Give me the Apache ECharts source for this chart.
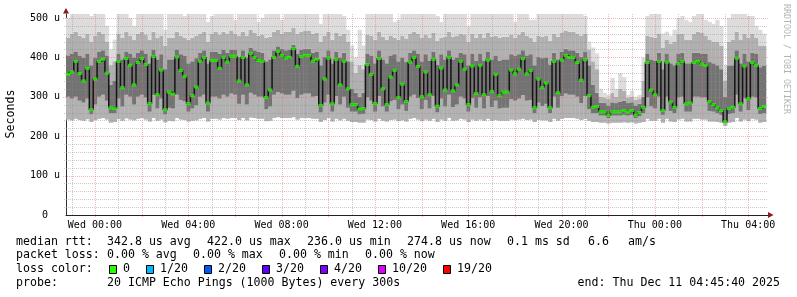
<!DOCTYPE html>
<html><head><meta charset="utf-8">
<script src="https://cdn.jsdelivr.net/npm/echarts@6/dist/echarts.min.js"></script>
<style>html,body{margin:0;padding:0;background:#fff}#c{width:797px;height:297px}</style>
</head><body><div id="c"></div>
<script>
// time axis in hours relative to Wed 00:00; first sample starts Tue 22:45:40
const startHour = -1.24;
const stepHours = 1 / 6; // 10-minute samples
const xLabelHours = [0, 4, 8, 12, 16, 20, 24, 28];
const xLabels = ['Wed 00:00', 'Wed 04:00', 'Wed 08:00', 'Wed 12:00', 'Wed 16:00', 'Wed 20:00', 'Thu 00:00', 'Thu 04:00'];
const yTickValues = [0, 100, 200, 300, 400, 500];

// median rtt (microseconds)
const median = [
 357,363,390,359,340,372,267,345,390,395,
 360,272,270,390,323,397,380,330,387,397,
 382,283,402,305,368,267,312,307,401,367,
 352,283,303,325,390,400,284,392,392,372,
 400,388,403,403,340,400,330,410,400,392,
 390,298,317,400,415,405,398,400,422,377,
 402,405,405,390,395,278,345,398,282,395,
 330,390,320,280,280,268,270,382,357,283,
 397,320,280,350,367,298,332,288,388,400,
 377,300,363,305,395,276,373,317,400,315,
 330,390,370,280,378,308,380,305,393,313,
 357,303,312,312,368,358,370,397,358,367,
 272,345,323,335,272,390,310,393,405,400,
 400,387,342,394,303,273,275,262,262,253,
 262,262,262,265,262,265,253,260,273,387,
 317,305,390,265,388,287,273,384,390,282,
 284,387,390,383,380,288,280,272,265,236,
 270,273,398,282,378,295,387,380,270,275
];
// smoke: lowest ping
const smokeMin = [
 242,240,244,241,239,243,236,241,244,246,
 242,234,236,243,239,245,242,240,244,246,
 242,237,246,239,242,235,239,238,246,242,
 241,237,239,240,244,246,237,244,244,242,
 246,244,246,246,241,246,240,247,246,244,
 244,238,239,246,248,246,246,246,248,242,
 246,246,246,244,244,236,241,246,237,244,
 240,244,239,236,236,234,234,242,241,237,
 244,239,237,241,242,238,240,237,244,246,
 242,238,242,239,244,236,242,239,246,239,
 240,244,242,236,242,239,242,239,244,239,
 241,239,239,239,242,241,242,244,241,242,
 236,241,240,240,236,244,239,244,246,246,
 246,244,241,244,239,236,236,234,234,232,
 234,234,234,235,234,235,232,234,236,244,
 239,239,244,234,244,237,236,242,244,237,
 237,244,244,242,242,237,237,236,234,226,
 234,236,246,237,242,238,244,242,234,236
];
// smoke: lower edge of dense core
const smokeLow = [
 300,295,300,290,285,295,255,280,300,305,
 290,258,258,295,275,305,300,280,300,305,
 298,262,305,270,295,255,272,270,305,292,
 288,262,270,278,300,305,262,300,300,295,
 305,300,308,305,282,305,280,310,305,300,
 300,268,275,305,312,308,305,305,315,296,
 305,308,308,300,302,260,285,305,262,302,
 280,300,272,262,262,255,256,298,290,262,
 302,275,262,288,292,268,280,264,300,305,
 296,268,292,270,302,260,295,275,305,274,
 280,300,295,262,296,272,298,270,302,274,
 290,270,272,272,294,290,295,304,290,292,
 258,285,276,282,258,300,272,302,308,305,
 305,300,284,302,268,258,258,252,252,246,
 252,252,252,254,252,254,246,250,258,298,
 275,270,300,254,300,264,258,298,300,262,
 262,300,300,298,298,264,262,258,254,238,
 256,258,305,262,296,266,300,298,256,258
];
// smoke: upper edge of dense core
const smokeHigh = [
 405,410,415,405,400,410,380,400,415,418,
 405,330,340,410,395,415,410,400,412,418,
 410,385,420,395,408,370,395,395,420,408,
 405,385,390,398,412,418,385,415,415,410,
 420,412,420,420,402,418,400,425,418,415,
 412,390,395,418,428,422,418,420,432,410,
 420,422,422,412,415,380,402,418,385,415,
 400,412,390,320,310,300,310,410,405,385,
 418,395,385,405,408,390,400,388,412,418,
 410,390,408,392,415,382,408,395,418,395,
 400,412,408,380,410,392,410,392,415,395,
 405,392,395,395,408,405,408,418,405,408,
 380,402,398,400,382,412,395,415,422,418,
 418,412,402,415,380,330,310,285,284,278,
 286,284,288,290,284,286,278,282,300,410,
 395,392,412,370,410,385,380,410,412,385,
 385,412,412,410,410,388,385,380,370,300,
 378,380,418,385,410,390,412,410,375,378
];
// smoke: upper edge of mid band
const smokeUpper = [
 450,460,465,455,450,460,440,455,465,460,
 440,380,390,460,450,465,455,445,460,465,
 458,445,465,450,455,430,450,450,465,455,
 450,445,450,455,460,465,440,460,465,458,
 465,460,468,460,455,465,455,470,462,455,
 458,450,452,465,470,460,465,465,475,460,
 465,468,468,460,462,440,455,465,445,462,
 455,460,440,390,360,380,370,458,455,445,
 465,452,445,455,450,445,455,448,460,465,
 460,450,458,450,462,442,450,452,465,452,
 455,460,458,440,460,450,460,450,462,452,
 455,450,452,452,458,450,458,465,455,450,
 440,455,452,455,442,460,452,462,468,465,
 465,460,455,460,420,390,370,300,298,295,
 310,300,320,315,298,300,292,296,340,455,
 452,450,460,425,445,435,440,460,460,445,
 445,460,465,462,455,445,440,440,430,340,
 440,445,465,445,460,450,460,450,430,430
];
// smoke: highest ping
const smokeMax = [
 500,515,515,515,515,515,505,515,515,515,
 480,420,445,515,515,515,500,480,515,515,
 515,510,515,515,515,470,515,515,515,515,
 505,515,515,515,515,515,490,505,515,515,
 515,515,515,495,515,515,515,515,515,490,
 500,515,515,515,515,495,515,515,515,515,
 515,515,515,515,515,485,515,515,515,515,
 515,505,470,430,400,470,430,515,515,515,
 515,515,515,515,490,495,515,515,515,515,
 515,515,515,515,515,505,490,515,515,515,
 515,515,515,480,515,515,515,515,515,515,
 515,515,515,515,515,490,515,515,515,495,
 495,515,515,515,510,515,515,515,515,515,
 515,515,515,505,440,425,410,320,310,305,
 348,320,360,350,305,315,300,305,400,505,
 515,515,515,460,465,455,470,500,505,495,
 490,505,515,515,495,490,485,495,480,380,
 500,510,515,510,515,505,505,480,470,460
];

const lossLabels = ['0', '1/20', '2/20', '3/20', '4/20', '10/20', '19/20'];
const lossColors = ['#26ff00', '#00b8ff', '#0059ff', '#5e00ff', '#7e00ff', '#dd00ff', '#ff0000'];
const rttStats = ['342.8 us avg', '422.0 us max', '236.0 us min', '274.8 us now', '0.1 ms sd', '6.6', 'am/s'];
const lossStats = ['0.00 % avg', '0.00 % max', '0.00 % min', '0.00 % now'];
const probeText = '20 ICMP Echo Pings (1000 Bytes) every 300s';
const endText = 'end: Thu Dec 11 04:45:40 2025';

const FONT = 'DejaVu Sans Mono';
const times = median.map((_, i) => startHour + (i + 0.5) * stepHours);
const smokeRows = times.map((t, i) => [t, smokeMin[i], smokeLow[i], smokeHigh[i], smokeUpper[i], smokeMax[i]]);
const bandColors = ['#b2b2b2', '#737373', '#b0b0b0', '#dcdcdc'];

// grid definitions: [position, isMajor]
const majorCol = 'rgba(240,110,110,0.5)';
const minorCol = 'rgba(140,140,140,0.45)';
const vGrid = [];
for (let h = -1; h <= 28; h += 1) vGrid.push([h, Math.abs(h) % 2 === 0 ? 1 : 0]);
const hGrid = [];
for (let v = 20; v <= 500; v += 20) hGrid.push([startHour, v, v % 100 === 0 ? 1 : 0]);

const chart = echarts.init(document.getElementById('c'), null, { renderer: 'canvas' });

function txt(x, y, s, align) {
  return { type: 'text', x: x, y: y, silent: true,
    style: { text: s, font: '11.6px "' + FONT + '"', fill: '#000', verticalAlign: 'middle', align: align || 'left' } };
}
const graphics = [];
graphics.push({ type: 'text', x: 11, y: 114, rotation: Math.PI / 2, silent: true,
  style: { text: 'Seconds', font: '11.6px "' + FONT + '"', fill: '#000', align: 'center', verticalAlign: 'middle' } });
graphics.push({ type: 'text', x: 786, y: 59, rotation: -Math.PI / 2, silent: true,
  style: { text: 'RRDTOOL / TOBI OETIKER', font: '8.3px "' + FONT + '"', fill: '#b4b4b4', align: 'center', verticalAlign: 'middle' } });
graphics.push({ type: 'polygon', silent: true, z: 100, shape: { points: [[63, 13.5], [69, 13.5], [66, 8]] }, style: { fill: '#8b1a1a' } });
graphics.push({ type: 'polygon', silent: true, z: 100, shape: { points: [[768, 212], [768, 218], [773.5, 215]] }, style: { fill: '#8b1a1a' } });
graphics.push(txt(16, 241.7, 'median rtt:'));
const rttX = [107, 207, 307, 407, 507, 588, 628];
rttStats.forEach((s, i) => graphics.push(txt(rttX[i], 241.7, s)));
graphics.push(txt(16, 255.2, 'packet loss:'));
const lossX = [107, 193, 279, 365];
lossStats.forEach((s, i) => graphics.push(txt(lossX[i], 255.2, s)));
graphics.push(txt(16, 269.3, 'loss color:'));
const boxX = [109, 146, 204, 262, 320, 378, 443];
lossLabels.forEach((s, i) => {
  graphics.push({ type: 'rect', silent: true, shape: { x: boxX[i] + 0.5, y: 265.5, width: 7, height: 8 },
    style: { fill: lossColors[i], stroke: '#000', lineWidth: 1 } });
  graphics.push(txt(boxX[i] + 14, 269.3, s));
});
graphics.push(txt(16, 282.8, 'probe:'));
graphics.push(txt(107, 282.8, probeText));
graphics.push(txt(780, 282.8, endText, 'right'));

const option = {
  animation: false,
  backgroundColor: '#ffffff',
  grid: { left: 66, right: 29, top: 14, bottom: 82 },
  xAxis: {
    type: 'value', min: startHour, max: 28.85,
    axisLine: { show: true, onZero: false, lineStyle: { color: '#222', width: 1 } },
    axisTick: { show: false },
    axisLabel: { show: true, customValues: xLabelHours, margin: 5,
      formatter: v => { const i = xLabelHours.indexOf(Math.round(v)); return i >= 0 ? xLabels[i] : ''; },
      color: '#000', fontFamily: FONT, fontSize: 10 },
    splitLine: { show: false }
  },
  yAxis: {
    type: 'value', min: 0, max: 510, interval: 100,
    axisLine: { show: true, onZero: false, lineStyle: { color: '#333', width: 1 } },
    axisTick: { show: false },
    axisLabel: { customValues: yTickValues, margin: 6, color: '#000', fontFamily: FONT, fontSize: 10,
      formatter: v => v === 0 ? '0  ' : v + ' u' },
    splitLine: { show: false }
  },
  graphic: graphics,
  series: [
    {
      type: 'custom', name: 'smoke', z: 2, clip: true, silent: true,
      data: smokeRows,
      encode: { x: 0, y: [1, 2, 3, 4, 5] },
      renderItem: function (params, api) {
        const t = api.value(0);
        const a = api.coord([t - stepHours / 2, 0]);
        const b = api.coord([t + stepHours / 2, 0]);
        const x = a[0];
        const w = b[0] - a[0] + 0.4;
        const children = [];
        for (let j = 0; j < 4; j++) {
          const y0 = api.coord([t, api.value(1 + j)])[1];
          const y1 = api.coord([t, api.value(2 + j)])[1];
          children.push({ type: 'rect', shape: { x: x, y: y1, width: w, height: y0 - y1 }, style: { fill: bandColors[j] } });
        }
        return { type: 'group', children: children };
      }
    },
    {
      type: 'custom', name: 'vgrid', z: 5, silent: true, clip: false,
      data: vGrid, encode: { x: 0, y: 1 },
      renderItem: function (params, api) {
        const cs = params.coordSys;
        const major = api.value(1) === 1;
        const x = Math.round(api.coord([api.value(0), 0])[0]) + 0.5;
        return { type: 'line', shape: { x1: x, y1: cs.y, x2: x, y2: cs.y + cs.height + (major ? 3 : 0) },
          style: { stroke: major ? majorCol : minorCol, lineWidth: 1, lineDash: [1, 1] } };
      }
    },
    {
      type: 'custom', name: 'hgrid', z: 5, silent: true, clip: false,
      data: hGrid, encode: { x: 0, y: 1 },
      renderItem: function (params, api) {
        const cs = params.coordSys;
        const major = api.value(2) === 1;
        const y = Math.round(api.coord([startHour, api.value(1)])[1]) + 0.5;
        return { type: 'line', shape: { x1: cs.x - (major ? 3 : 2), y1: y, x2: cs.x + cs.width, y2: y },
          style: { stroke: major ? majorCol : minorCol, lineWidth: 1, lineDash: [1, 1] } };
      }
    },
    {
      type: 'line', name: 'median', z: 6, step: 'middle', showSymbol: false, symbol: 'none', silent: true,
      data: times.map((t, i) => [t, median[i]]),
      lineStyle: { color: '#141414', width: 1.5 }
    },
    {
      type: 'scatter', name: 'loss0', z: 7, symbol: 'rect', symbolSize: [4.5, 3], silent: true,
      data: times.map((t, i) => [t, median[i]]),
      itemStyle: { color: lossColors[0] }
    }
  ]
};
chart.setOption(option);
</script>
</body></html>
